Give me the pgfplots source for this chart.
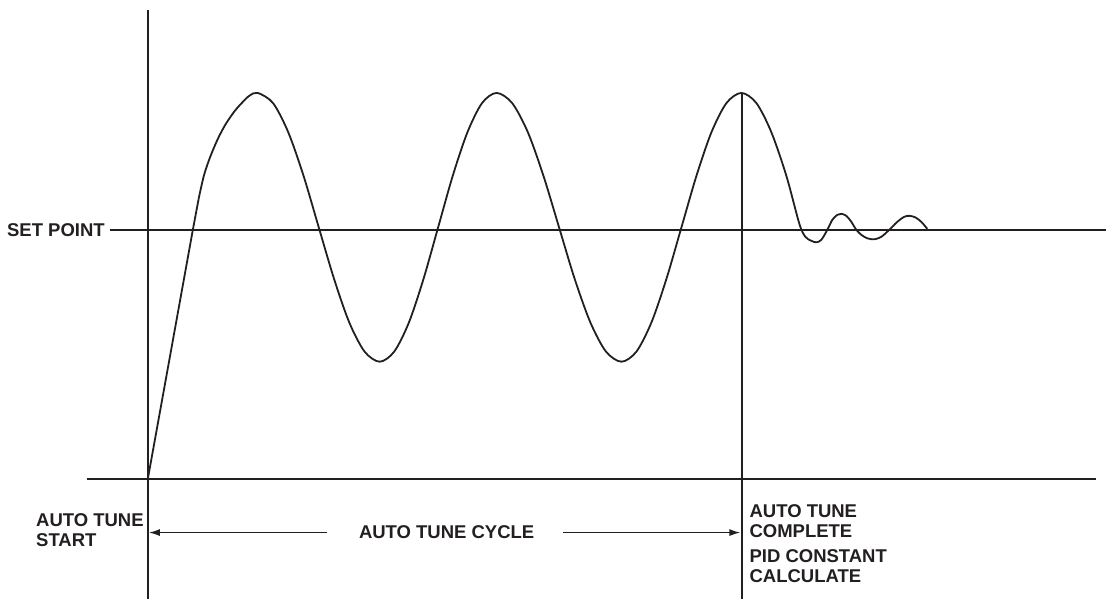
\documentclass[border=0pt]{standalone}
\usepackage{pgfplots}
\pgfplotsset{compat=1.18}
\usepackage{fontspec}
\setmainfont{Liberation Sans}
\usetikzlibrary{arrows.meta}
\definecolor{ink}{HTML}{231F20}
\begin{document}
\begin{tikzpicture}
\begin{axis}[
  scale only axis, width=1107pt, height=599pt,
  xmin=0, xmax=1107, ymin=0, ymax=599,
  hide axis, clip=false,
  cycle list={{ink, no marks, line width=1.8pt}},
]
\path (axis cs:0,0) rectangle (axis cs:1107,599);
% axes and reference lines
\addplot[ink, no marks, line width=1.8pt] coordinates {(148,589) (148,0)};
\addplot[ink, no marks, line width=1.8pt] coordinates {(87,120) (1097,120)};
\addplot[ink, no marks, line width=1.8pt] coordinates {(110,369) (1107,369)};
\addplot[ink, no marks, line width=1.8pt] coordinates {(742.5,506) (742.5,0)};
% ramp
\addplot[ink, no marks, line width=1.8pt] coordinates {(148,120) (193,369) (199,401)};
% oscillation
\addplot[ink, no marks, line width=1.8pt, smooth, tension=0.5] coordinates {
(199,401) (204,423) (210,441) (218,460) (226,475) (235,488) (243,497) (250,503.5) (258,506)
(273.3,495.8) (288.5,466.6) (303.8,423.0) (319,371.5) (334.3,320.0) (349.5,276.4) (364.8,247.2) (380,237)
(394.6,247.2) (409.3,276.4) (423.9,320.0) (438.5,371.5) (453.1,423.0) (467.8,466.6) (482.4,495.8) (497,506)
(512.6,495.8) (528.3,466.6) (543.9,423.0) (559.5,371.5) (575.1,320.0) (590.8,276.4) (606.4,247.2) (622,237)
(637,247.2) (652,276.4) (667,320.0) (682,371.5) (697,423.0) (712,466.6) (727,495.8) (742,506)
(757,495.8) (772,466.6) (787,423.0) (800,375) (806,362) (812,358) (817,356.5) (822,359)
(828,369) (833,379) (838,384) (842,385) (847,383) (852,377) (857,369) (862,364)
(868,360.5) (875,359.5) (882,362) (890,369) (898,377) (905,382) (910,383) (916,381.5) (922,377) (928,370)
};
% arrows
\addplot[ink, no marks, line width=1.5pt, -{Latex[length=11pt,width=7pt]}] coordinates {(327,66) (149,66)};
\addplot[ink, no marks, line width=1.5pt, -{Latex[length=11pt,width=7pt]}] coordinates {(563,66) (741,66)};
% labels
\begin{scope}[every node/.style={font=\fontsize{18.5}{20}\selectfont\bfseries, text=ink, inner sep=0pt}]
\node[anchor=east] at (axis cs:105,369) {SET POINT};
\node[anchor=base] at (axis cs:447,60) {AUTO TUNE CYCLE};
\node[anchor=base west] at (axis cs:36,72) {AUTO TUNE};
\node[anchor=base west] at (axis cs:36,52) {START};
\node[anchor=base west] at (axis cs:750,81) {AUTO TUNE};
\node[anchor=base west] at (axis cs:750,61) {COMPLETE};
\node[anchor=base west] at (axis cs:750,36) {PID CONSTANT};
\node[anchor=base west] at (axis cs:750,16) {CALCULATE};
\end{scope}
\end{axis}
\end{tikzpicture}
\end{document}
